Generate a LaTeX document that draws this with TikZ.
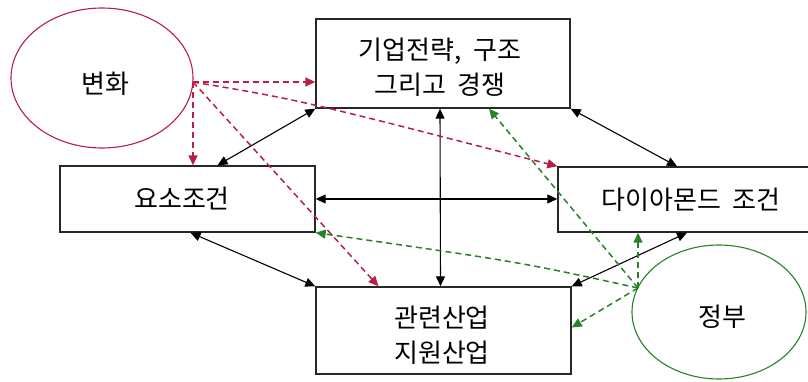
\documentclass[tikz,border=0pt]{standalone}
\usepackage{fontspec}
\newfontfamily\kr{Noto Sans CJK KR}
\usetikzlibrary{shapes.geometric,arrows.meta,calc}
\definecolor{chgred}{RGB}{185,30,70}
\definecolor{govgreen}{RGB}{40,130,40}
\definecolor{boxline}{RGB}{40,40,40}
\begin{document}
\begin{tikzpicture}[x=1pt,y=-1pt,
  box/.style={draw=boxline,line width=1.4pt,rectangle,inner sep=0pt,fill=white},
  lbl/.style={font=\kr\fontsize{26}{35}\selectfont,align=center,inner sep=0pt},
  blk/.style={{Triangle[length=10pt,width=9pt]}-{Triangle[length=10pt,width=9pt]},line width=1.1pt,black},
  redarr/.style={-{Triangle[length=10pt,width=9pt]},chgred,line width=1.5pt,dash pattern=on 6pt off 4pt},
  grnarr/.style={-{Triangle[length=10pt,width=9pt]},govgreen,line width=1.5pt,dash pattern=on 6pt off 4pt},
]
\useasboundingbox (0,0) rectangle (808,382);
\clip (0,0) rectangle (808,382);
\fill[white] (0,0) rectangle (808,382);
% circles
\node[ellipse,draw=chgred,line width=1.1pt,minimum width=182pt,minimum height=140pt,inner sep=0pt] (chg) at (102,78) {};
\node[lbl] (chgt) at (105,84) {변화};
\node[ellipse,draw=govgreen,line width=1.1pt,minimum width=174pt,minimum height=134pt,inner sep=0pt] (gov) at (719,312) {};
\node[lbl] (govt) at (722,317) {정부};
% boxes
\node[box,minimum width=254pt,minimum height=89pt] (top) at (443,63.5) {};
\node[lbl] (topt) at (440,67) {기업전략,\ \ 구조\\그리고\ \ 경쟁};
\node[box,minimum width=255pt,minimum height=66pt] (left) at (187.5,199) {};
\node[lbl] (leftt) at (182,199) {요소조건};
\node[box,minimum width=272pt,minimum height=65pt] (right) at (694,199.5) {};
\node[lbl] (rightt) at (691,200) {다이아몬드\ \ 조건};
\node[box,minimum width=255pt,minimum height=87pt] (bot) at (443.5,330.5) {};
\node[lbl] (bott) at (442,335) {관련산업\\지원산업};
% black double arrows
\draw[blk] ([xshift=30pt]left.north) -- (top.south west);
\draw[blk] (top.south east) -- ([xshift=-17pt]right.north);
\draw[blk] ([xshift=3pt]left.south) -- (bot.north west);
\draw[blk] ([xshift=-7pt]right.south) -- (bot.north east);
\draw[blk] (left.east) -- (right.west |- left.east);
\draw[blk] ([xshift=-3pt]top.south) -- ([xshift=-3pt]bot.north);
% red dashed arrows
\coordinate (co) at (193,82);
\draw[redarr] (co) -- (co -| top.west);
\draw[redarr] (co) -- (co |- left.north);
\draw[redarr] (co) .. controls (300,100) .. (right.north west);
\draw[redarr] (co) -- ([xshift=-65pt]bot.north);
% green dashed arrows
\coordinate (go) at (638,288);
\draw[grnarr] (go) -- ([xshift=46pt]top.south);
\draw[grnarr] (go) -- (go |- right.south);
\draw[grnarr] (go) -- ([yshift=3pt]bot.east);
\draw[grnarr] (go) .. controls (520,262) .. (left.south east);
\end{tikzpicture}
\end{document}
